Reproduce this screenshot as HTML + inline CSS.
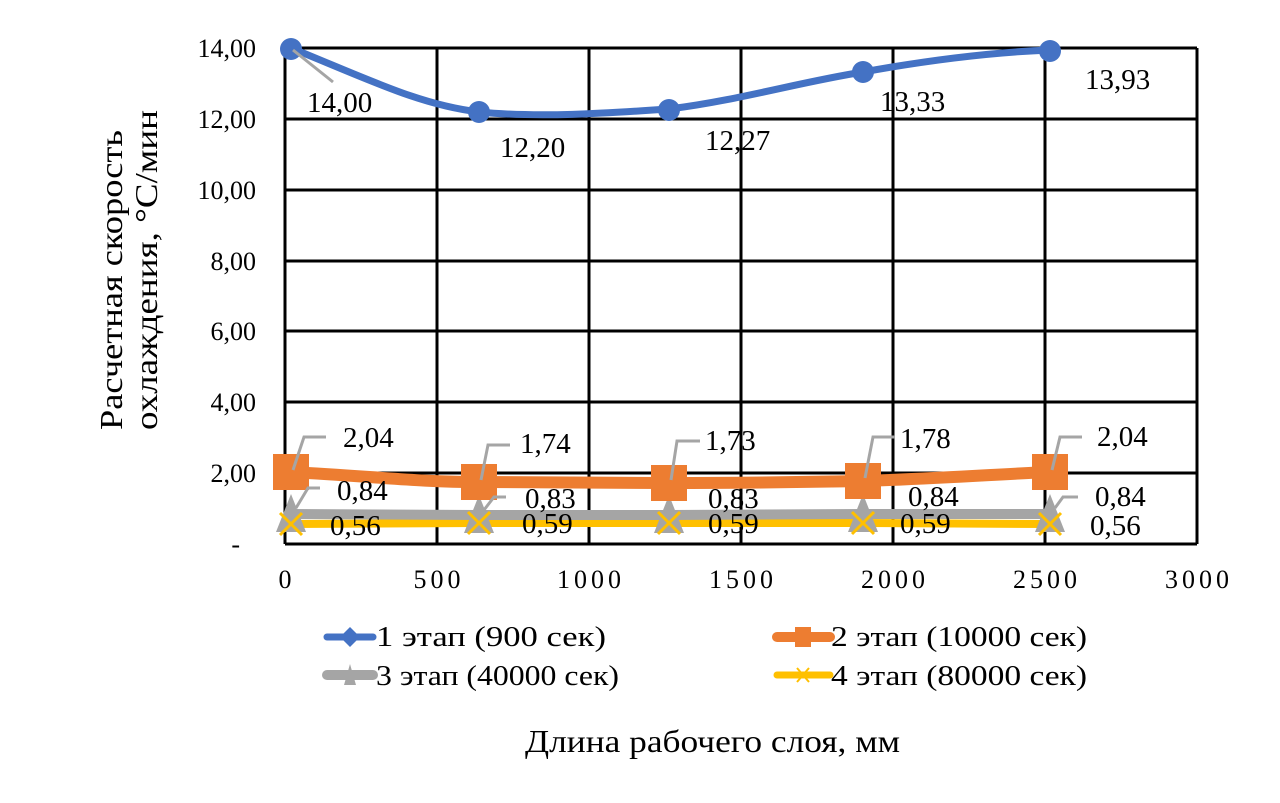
<!DOCTYPE html>
<html><head><meta charset="utf-8"><style>
html,body{margin:0;padding:0;background:#fff;}
svg{display:block;font-family:"Liberation Serif",serif;}
</style></head><body>
<svg width="1280" height="803" viewBox="0 0 1280 803" xmlns="http://www.w3.org/2000/svg">
<rect width="1280" height="803" fill="#fff"/>
<g stroke="#000" stroke-width="3" fill="none">
<path d="M285 48H1197M285 119H1197M285 190H1197M285 261H1197M285 331H1197M285 402H1197M285 473H1197M285 544H1197"/>
<path d="M285 48V544M437 48V544M589 48V544M741 48V544M893 48V544M1045 48V544M1197 48V544"/>
</g>
<g font-size="26" text-anchor="end" fill="#000">
<text x="256" y="57">14,00</text><text x="256" y="128">12,00</text><text x="256" y="199">10,00</text>
<text x="256" y="270">8,00</text><text x="256" y="340">6,00</text><text x="256" y="411">4,00</text>
<text x="256" y="482">2,00</text><text x="240" y="553">-</text>
</g>
<g font-size="26" text-anchor="middle" letter-spacing="4">
<text x="287" y="588">0</text><text x="439" y="588">500</text><text x="591" y="588">1000</text>
<text x="743" y="588">1500</text><text x="895" y="588">2000</text><text x="1047" y="588">2500</text><text x="1199" y="588">3000</text>
</g>
<g font-size="32">
<text transform="translate(122,430) rotate(-90)" textLength="300" lengthAdjust="spacingAndGlyphs">Расчетная скорость</text>
<text transform="translate(157,430) rotate(-90)" textLength="320" lengthAdjust="spacingAndGlyphs">охлаждения, °С/мин</text>
<text x="525" y="752" textLength="375" lengthAdjust="spacingAndGlyphs">Длина рабочего слоя, мм</text>
</g>
<!-- series 4 -->
<path d="M291 524L479 523L669 523L863 523L1050 524" stroke="#FFC000" stroke-width="8" fill="none"/>
<!-- series 3 -->
<path d="M291 514L479 515L669 515L863 514L1050 514" stroke="#A5A5A5" stroke-width="10" fill="none"/>
<g fill="#A5A5A5">
<path d="M291 494L306 532H276Z"/><path d="M479 495L494 533H464Z"/><path d="M669 495L684 533H654Z"/><path d="M863 494L878 532H848Z"/><path d="M1050 494L1065 532H1035Z"/>
</g>
<g stroke="#FFC000" stroke-width="3">
<path d="M280 513L302 535M302 513L280 535M468 512L490 534M490 512L468 534M658 512L680 534M680 512L658 534M852 512L874 534M874 512L852 534M1039 513L1061 535M1061 513L1039 535"/>
</g>
<!-- series 2 -->
<path d="M291 472C380 477 420 482 479 482L669 483C760 483 800 482 863 481C950 478 1000 474 1050 472" stroke="#ED7D31" stroke-width="12" fill="none"/>
<g fill="#ED7D31">
<rect x="273" y="454" width="36" height="36"/><rect x="461" y="464" width="36" height="36"/><rect x="651" y="465" width="36" height="36"/><rect x="845" y="463" width="36" height="36"/><rect x="1032" y="454" width="36" height="36"/>
</g>
<!-- series 1 -->
<path d="M291 48C370 80 420 105 479 112C540 118 610 113 669 109C740 100 800 82 863 72C940 58 1000 52 1050 50" stroke="#4472C4" stroke-width="7" fill="none"/>
<g fill="#4472C4">
<circle cx="291" cy="49" r="11"/><circle cx="479" cy="112" r="11"/><circle cx="669" cy="110" r="11"/><circle cx="863" cy="72" r="11"/><circle cx="1050" cy="51" r="11"/>
</g>
<!-- leader lines -->
<g stroke="#A5A5A5" stroke-width="3" fill="none">
<path d="M293 50L333 82"/>
<path d="M293 470L304 437H326M481 480L488 445H510M671 480L677 441H700M865 478L873 437H895M1052 470L1060 437H1082"/>
<path d="M296 508L308 488H320M484 510L494 497H506M1055 508L1063 497H1078"/>
</g>
<g font-size="29" fill="#000">
<text x="307" y="112">14,00</text><text x="500" y="157">12,20</text><text x="705" y="150">12,27</text><text x="880" y="111">13,33</text><text x="1085" y="89">13,93</text>
<text x="343" y="447">2,04</text><text x="520" y="453">1,74</text><text x="705" y="450">1,73</text><text x="900" y="448">1,78</text><text x="1097" y="446">2,04</text>
<text x="337" y="500">0,84</text><text x="525" y="508">0,83</text><text x="708" y="508">0,83</text><text x="908" y="506">0,84</text><text x="1095" y="506">0,84</text>
<text x="330" y="535">0,56</text><text x="522" y="533">0,59</text><text x="708" y="533">0,59</text><text x="900" y="533">0,59</text><text x="1090" y="535">0,56</text>
</g>
<!-- legend -->
<g>
<path d="M327 637H373" stroke="#4472C4" stroke-width="7" stroke-linecap="round"/>
<path d="M350 627L360 637L350 647L340 637Z" fill="#4472C4"/>
<path d="M777 637H830" stroke="#ED7D31" stroke-width="10" stroke-linecap="round"/>
<rect x="795" y="627" width="16" height="20" fill="#ED7D31"/>
<path d="M327 675H373" stroke="#A5A5A5" stroke-width="10" stroke-linecap="round"/>
<path d="M350 664L356 685H344Z" fill="#A5A5A5"/>
<path d="M777 675H830" stroke="#FFC000" stroke-width="7" stroke-linecap="round"/>
<path d="M797 668L809 682M809 668L797 682" stroke="#FFC000" stroke-width="2"/>
<g font-size="28">
<text x="376" y="646" textLength="230" lengthAdjust="spacingAndGlyphs">1 этап (900 сек)</text>
<text x="831" y="646" textLength="256" lengthAdjust="spacingAndGlyphs">2 этап (10000 сек)</text>
<text x="376" y="685" textLength="243" lengthAdjust="spacingAndGlyphs">3 этап (40000 сек)</text>
<text x="831" y="685" textLength="256" lengthAdjust="spacingAndGlyphs">4 этап (80000 сек)</text>
</g>
</g>
</svg>
</body></html>
